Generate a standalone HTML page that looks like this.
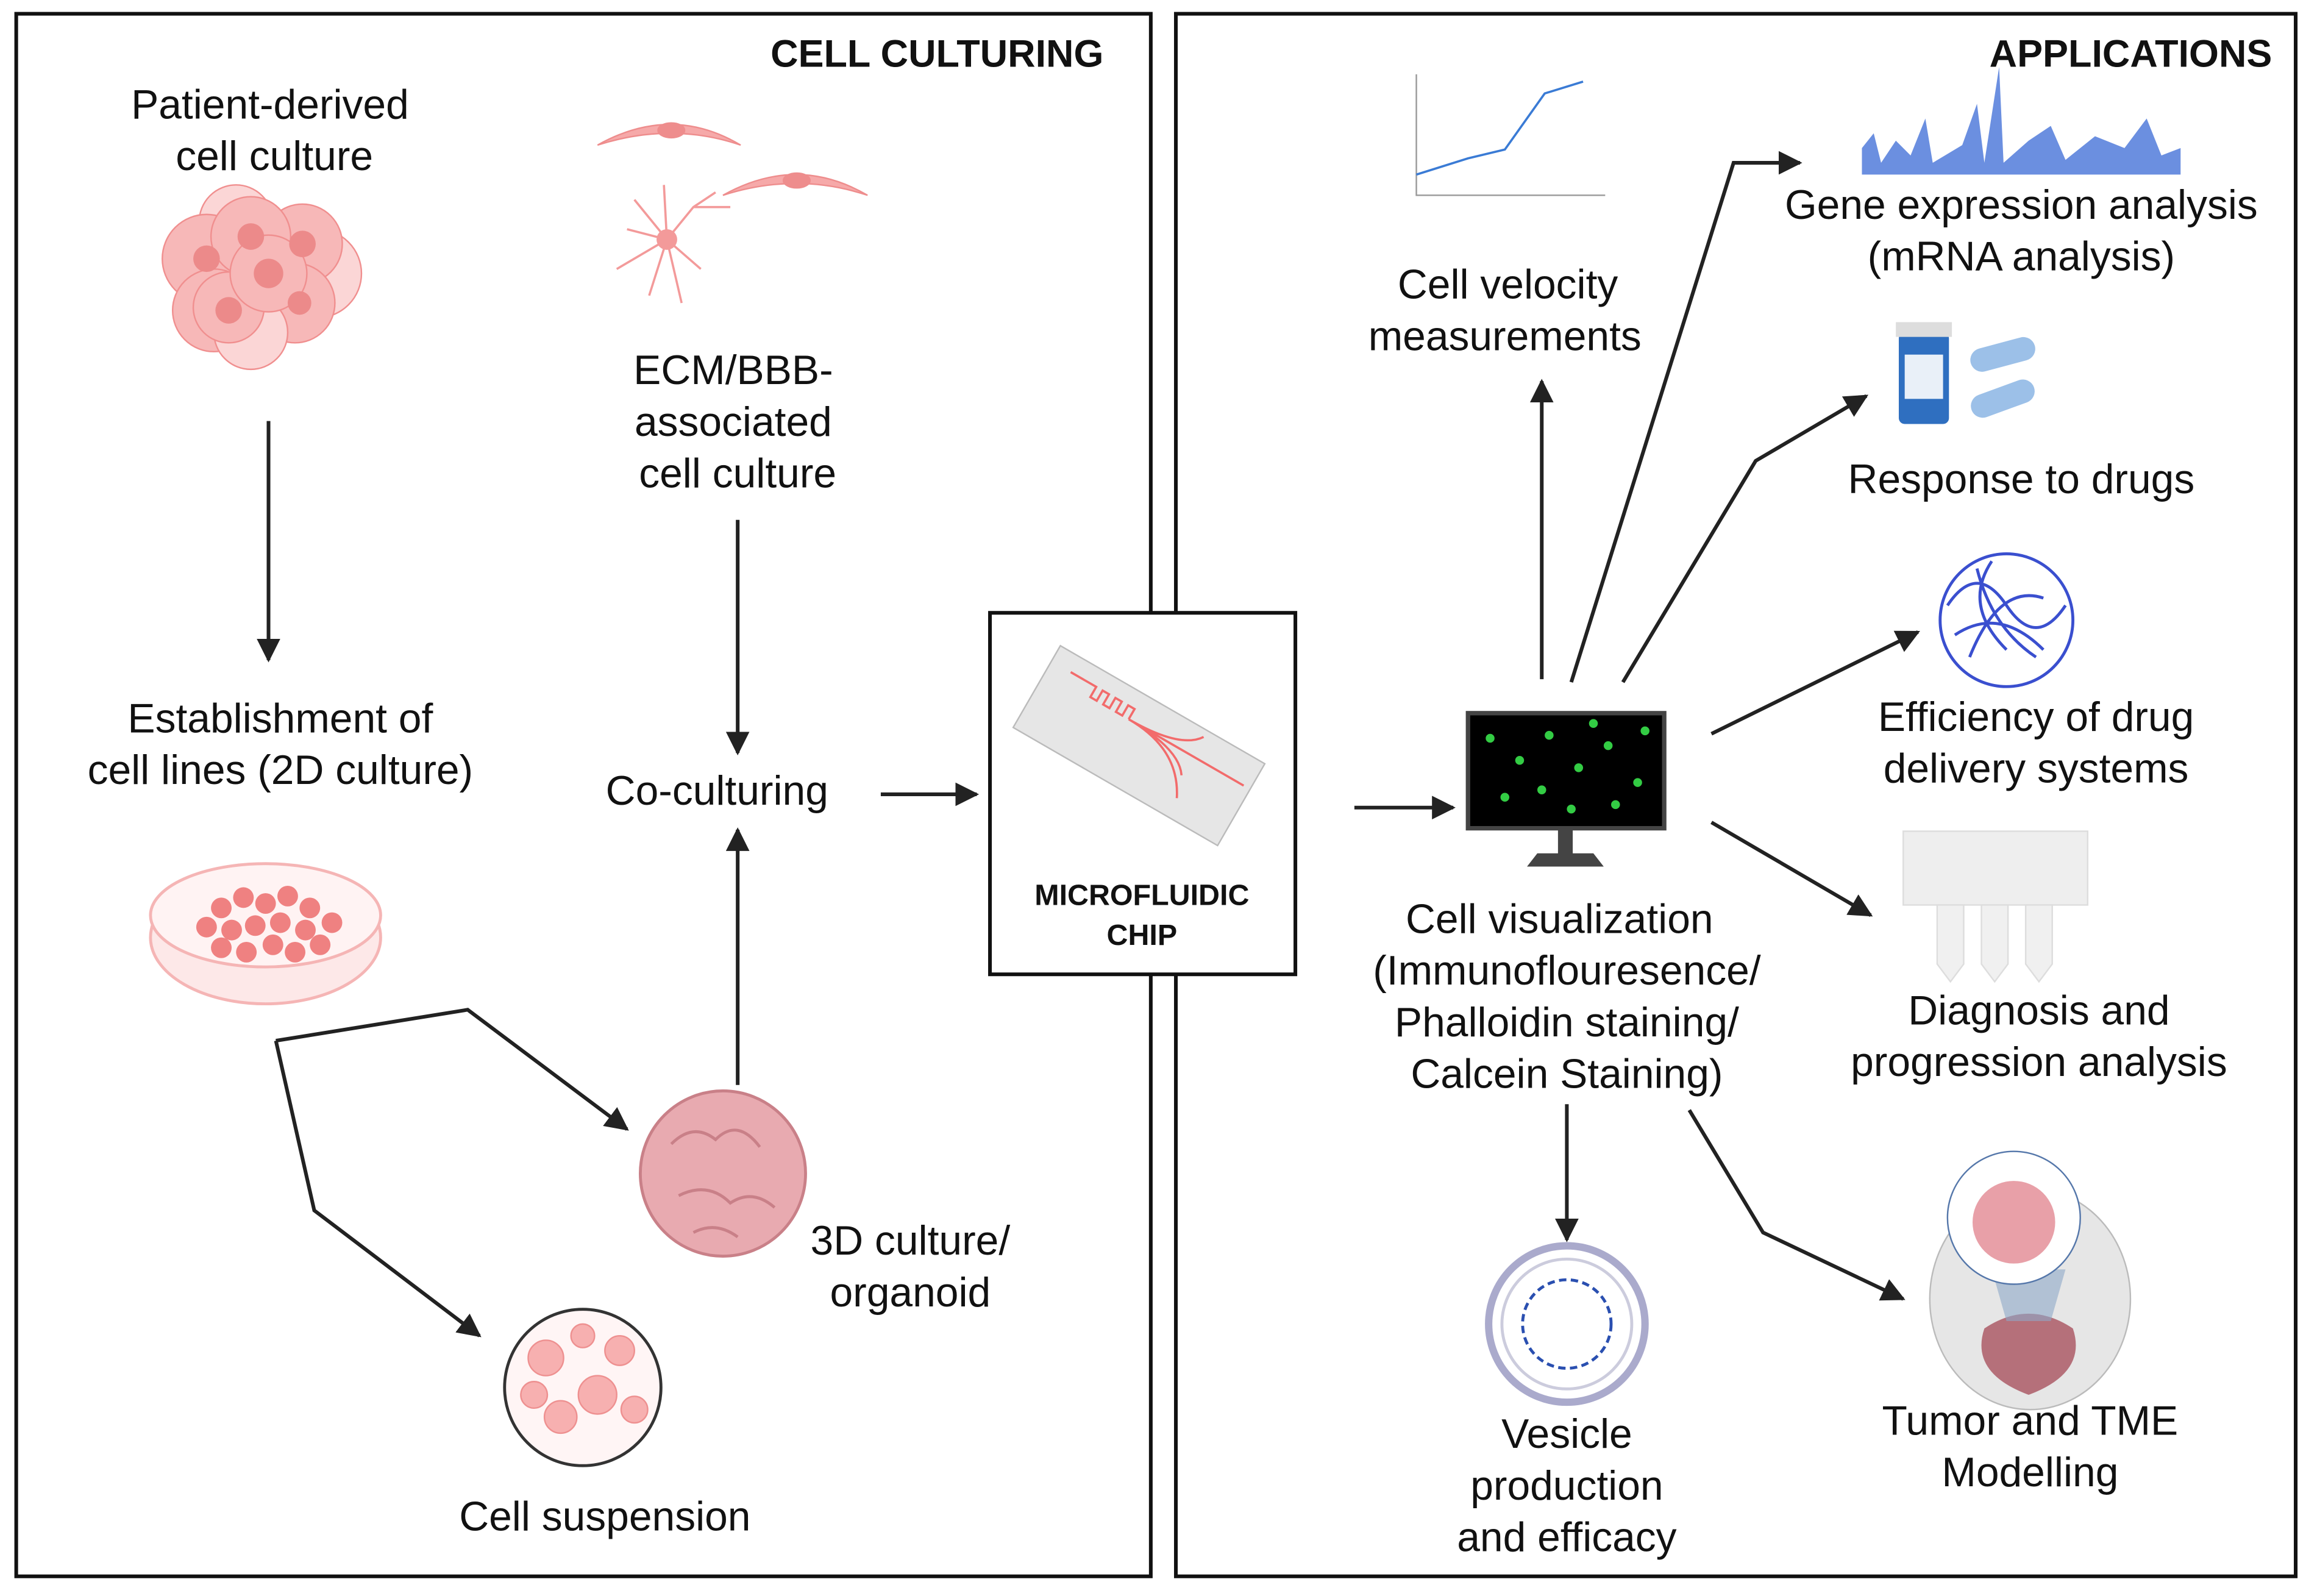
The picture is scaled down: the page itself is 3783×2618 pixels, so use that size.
<!DOCTYPE html>
<html><head><meta charset="utf-8"><style>
html,body{margin:0;padding:0;background:#fff}
svg{display:block}
text{font-family:"Liberation Sans",sans-serif;fill:#111}
.t{font-size:28px;text-anchor:middle}
.b{font-weight:bold}
</style></head><body>
<svg width="3783" height="2618" viewBox="0 0 1563 1081" xmlns="http://www.w3.org/2000/svg">
<defs>
<marker id="a" markerWidth="8" markerHeight="8" refX="7" refY="4" orient="auto" markerUnits="userSpaceOnUse" viewBox="0 0 8 8">
</marker>
<marker id="h" viewBox="0 0 10 10" refX="9" refY="5" markerWidth="16" markerHeight="16" markerUnits="userSpaceOnUse" orient="auto"><path d="M0,0 L10,5 L0,10 z" fill="#222"/></marker>
<radialGradient id="cell" cx="0.5" cy="0.5" r="0.5"><stop offset="0" stop-color="#f4a0a0"/><stop offset="1" stop-color="#f8c4c4"/></radialGradient>
</defs>
<rect width="1563" height="1081" fill="#fff"/>
<!-- panels -->
<rect x="11" y="9" width="769" height="1059" fill="none" stroke="#111" stroke-width="2.5"/>
<rect x="797" y="9" width="759" height="1059" fill="none" stroke="#111" stroke-width="2.5"/>
<text x="748" y="45" class="b" style="font-size:26px;text-anchor:end">CELL CULTURING</text>
<text x="1540" y="45" class="b" style="font-size:26px;text-anchor:end">APPLICATIONS</text>

<!-- left texts -->
<text class="t" x="183" y="80">Patient-derived</text>
<text class="t" x="186" y="115">cell culture</text>
<text class="t" x="190" y="496">Establishment of</text>
<text class="t" x="190" y="531">cell lines (2D culture)</text>
<text class="t" x="497" y="260">ECM/BBB-</text>
<text class="t" x="497" y="295">associated</text>
<text class="t" x="500" y="330">cell culture</text>
<text class="t" x="486" y="545">Co-culturing</text>
<text class="t" x="617" y="850">3D culture/</text>
<text class="t" x="617" y="885">organoid</text>
<text class="t" x="410" y="1037">Cell suspension</text>

<!-- cell cluster -->
<g stroke="#f08a8a" stroke-width="1" fill="#f7b5b5" opacity="0.95">
<circle cx="160" cy="150" r="25" fill="#fbd4d4"/>
<circle cx="215" cy="185" r="30" fill="#fbd4d4"/>
<circle cx="140" cy="175" r="30"/><circle cx="205" cy="165" r="27"/>
<circle cx="170" cy="160" r="27"/><circle cx="145" cy="210" r="28"/>
<circle cx="200" cy="205" r="27"/><circle cx="170" cy="225" r="25" fill="#fbd4d4"/>
<circle cx="155" cy="208" r="24"/><circle cx="182" cy="185" r="26"/>
</g>
<g fill="#ec8a8a"><circle cx="140" cy="175" r="9"/><circle cx="170" cy="160" r="9"/><circle cx="205" cy="165" r="9"/><circle cx="182" cy="185" r="10"/><circle cx="155" cy="210" r="9"/><circle cx="203" cy="205" r="8"/></g>

<!-- ECM cells -->
<g fill="#f6a9a9" stroke="#ee8d8d">
<path d="M405,98 Q455,70 502,98 Q455,82 405,98z"/>
<ellipse cx="455" cy="88" rx="9" ry="5" fill="#ee8d8d"/>
<path d="M490,132 Q540,104 588,132 Q540,116 490,132z"/>
<ellipse cx="540" cy="122" rx="9" ry="5" fill="#ee8d8d"/>
</g>
<g stroke="#f39a9a" stroke-width="1.5" fill="none">
<path d="M452,162 L430,135 M452,162 L425,155 M452,162 L418,182 M452,162 L440,200 M452,162 L462,205 M452,162 L470,140 L485,130 M470,140 L495,140 M452,162 L475,182 M452,162 L450,125"/>
</g>
<circle cx="452" cy="162" r="7" fill="#f39a9a"/>

<!-- petri dish -->
<ellipse cx="180" cy="635" rx="78" ry="45" fill="#fde8e8" stroke="#f5b5b5" stroke-width="2"/>
<ellipse cx="180" cy="620" rx="78" ry="35" fill="#fff3f3" stroke="#f5b5b5" stroke-width="2"/>
<g fill="#ef8181">
<circle cx="150" cy="615" r="7"/><circle cx="165" cy="608" r="7"/><circle cx="180" cy="612" r="7"/><circle cx="195" cy="607" r="7"/><circle cx="210" cy="615" r="7"/><circle cx="140" cy="628" r="7"/><circle cx="157" cy="630" r="7"/><circle cx="173" cy="627" r="7"/><circle cx="190" cy="625" r="7"/><circle cx="207" cy="630" r="7"/><circle cx="225" cy="625" r="7"/><circle cx="150" cy="642" r="7"/><circle cx="167" cy="645" r="7"/><circle cx="185" cy="640" r="7"/><circle cx="200" cy="645" r="7"/><circle cx="217" cy="640" r="7"/>
</g>

<!-- organoid -->
<circle cx="490" cy="795" r="56" fill="#e8aab0" stroke="#c98088" stroke-width="2"/>
<path d="M455,775 q15,-15 30,-3 q15,-15 30,5 M460,810 q20,-10 35,5 q15,-10 30,3 M470,835 q15,-8 30,3" fill="none" stroke="#c98088" stroke-width="2"/>

<!-- cell suspension -->
<circle cx="395" cy="940" r="53" fill="#fff5f5" stroke="#333" stroke-width="2"/>
<g fill="#f7b0b0" stroke="#ee9090"><circle cx="370" cy="920" r="12"/><circle cx="405" cy="945" r="13"/><circle cx="380" cy="960" r="11"/><circle cx="420" cy="915" r="10"/><circle cx="430" cy="955" r="9"/><circle cx="362" cy="945" r="9"/><circle cx="395" cy="905" r="8"/></g>

<!-- left arrows -->
<g stroke="#222" stroke-width="2.5" fill="none" marker-end="url(#h)">
<line x1="182" y1="285" x2="182" y2="447"/>
<line x1="500" y1="352" x2="500" y2="510"/>
<line x1="500" y1="735" x2="500" y2="562"/>
<line x1="597" y1="538" x2="662" y2="538"/>
<polyline points="187,705 317,684 425,765"/>
<polyline points="187,705 213,820 325,905"/>
<line x1="918" y1="547" x2="985" y2="547"/>
</g>

<!-- chip -->
<rect x="671" y="415" width="207" height="245" fill="#fff" stroke="#111" stroke-width="2.5"/>
<g transform="translate(772,505) rotate(30)">
<rect x="-80" y="-32" width="160" height="64" fill="#e6e6e6" stroke="#bbb"/>
<path d="M-65,-20 h20 v8 h5 v-8 h5 v8 h5 v-8 h5 v8 h5 v-8 h5 v8 M-15,-12 q40,0 50,-15 M-15,-12 h90 M-15,-12 q40,0 50,15 M-15,-12 q40,0 55,30" fill="none" stroke="#f26b6b" stroke-width="1.5"/>
</g>
<text x="774" y="613" class="b" style="font-size:20px;text-anchor:middle">MICROFLUIDIC</text>
<text x="774" y="640" class="b" style="font-size:20px;text-anchor:middle">CHIP</text>

<!-- monitor -->
<rect x="995" y="483" width="133" height="78" fill="#000" stroke="#444" stroke-width="3"/>
<g fill="#33cc44"><circle cx="1010" cy="500" r="3"/><circle cx="1030" cy="515" r="3"/><circle cx="1050" cy="498" r="3"/><circle cx="1070" cy="520" r="3"/><circle cx="1090" cy="505" r="3"/><circle cx="1110" cy="530" r="3"/><circle cx="1020" cy="540" r="3"/><circle cx="1045" cy="535" r="3"/><circle cx="1065" cy="548" r="3"/><circle cx="1095" cy="545" r="3"/><circle cx="1115" cy="495" r="3"/><circle cx="1080" cy="490" r="3"/></g>
<rect x="1056" y="561" width="10" height="18" fill="#444"/>
<path d="M1035,587 L1042,578 H1080 L1087,587 Z" fill="#444"/>

<text class="t" x="1057" y="632">Cell visualization</text>
<text class="t" x="1062" y="667">(Immunoflouresence/</text>
<text class="t" x="1062" y="702">Phalloidin staining/</text>
<text class="t" x="1062" y="737">Calcein Staining)</text>

<!-- right arrows -->
<g stroke="#222" stroke-width="2.5" fill="none" marker-end="url(#h)">
<line x1="1045" y1="460" x2="1045" y2="258"/>
<polyline points="1065,462 1175,110 1220,110"/>
<polyline points="1100,462 1190,312 1265,268"/>
<line x1="1160" y1="497" x2="1300" y2="428"/>
<line x1="1160" y1="557" x2="1268" y2="620"/>
<polyline points="1145,752 1195,835 1290,880"/>
<line x1="1062" y1="748" x2="1062" y2="840"/>
</g>

<!-- graph -->
<g stroke="#999" stroke-width="1" fill="none"><polyline points="960,50 960,132 1088,132"/></g>
<polyline points="960,118 995,107 1020,101 1047,63 1073,55" stroke="#3a7bd5" stroke-width="1.5" fill="none"/>
<text class="t" x="1022" y="202">Cell velocity</text>
<text class="t" x="1020" y="237">measurements</text>

<!-- spectrum -->
<path d="M1262,118 L1262,100 L1270,90 L1275,110 L1285,95 L1295,105 L1305,80 L1310,110 L1330,98 L1340,70 L1345,110 L1355,45 L1358,110 L1375,95 L1390,85 L1400,108 L1420,92 L1440,100 L1455,80 L1465,105 L1478,100 L1478,118 Z" fill="#6b8fe0"/>
<text class="t" x="1370" y="148">Gene expression analysis</text>
<text class="t" x="1370" y="183">(mRNA analysis)</text>

<!-- pills -->
<rect x="1287" y="225" width="34" height="62" rx="4" fill="#2f6fc0"/>
<rect x="1285" y="218" width="38" height="10" fill="#ddd"/>
<rect x="1291" y="240" width="26" height="30" fill="#e9f0f8"/>
<rect x="1335" y="232" width="45" height="16" rx="8" fill="#9cc0e8" transform="rotate(-15 1357 240)"/>
<rect x="1335" y="262" width="45" height="16" rx="8" fill="#9cc0e8" transform="rotate(-20 1357 270)"/>
<text class="t" x="1370" y="334">Response to drugs</text>

<!-- nanoparticle -->
<circle cx="1360" cy="420" r="45" fill="none" stroke="#3a4fcf" stroke-width="2"/>
<path d="M1320,410 q20,-30 40,0 t40,0 M1325,430 q30,-20 60,10 M1340,385 q10,40 40,60 M1335,445 q20,-50 50,-40 M1350,380 q-20,30 10,60" fill="none" stroke="#3a4fcf" stroke-width="2"/>
<text class="t" x="1380" y="495">Efficiency of drug</text>
<text class="t" x="1380" y="530">delivery systems</text>

<!-- plate -->
<rect x="1290" y="563" width="125" height="50" fill="#eee" stroke="#ddd"/>
<g fill="#f0f0f0" stroke="#ddd"><path d="M1313,613 h18 v40 l-9,12 l-9,-12z"/><path d="M1343,613 h18 v40 l-9,12 l-9,-12z"/><path d="M1373,613 h18 v40 l-9,12 l-9,-12z"/></g>
<text class="t" x="1382" y="694">Diagnosis and</text>
<text class="t" x="1382" y="729">progression analysis</text>

<!-- brain -->
<ellipse cx="1376" cy="880" rx="68" ry="75" fill="#e6e6e6" stroke="#bbb"/>
<path d="M1345,900 q30,-20 60,0 q10,30 -30,45 q-40,-15 -30,-45z" fill="#b5707a"/>
<path d="M1350,860 L1400,860 L1390,895 L1360,895z" fill="#8ea9c8" opacity="0.6"/>
<circle cx="1365" cy="825" r="45" fill="#fff" stroke="#5577aa"/>
<circle cx="1365" cy="828" r="28" fill="#e8a0a8"/>
<text class="t" x="1376" y="972">Tumor and TME</text>
<text class="t" x="1376" y="1007">Modelling</text>

<!-- vesicle -->
<circle cx="1062" cy="897" r="53" fill="#fff" stroke="#aac" stroke-width="5"/>
<circle cx="1062" cy="897" r="44" fill="#fff" stroke="#ccd" stroke-width="2"/>
<circle cx="1062" cy="897" r="30" fill="none" stroke="#2a4fb0" stroke-width="2" stroke-dasharray="5 3"/>
<text class="t" x="1062" y="981">Vesicle</text>
<text class="t" x="1062" y="1016">production</text>
<text class="t" x="1062" y="1051">and efficacy</text>
</svg>
</body></html>
